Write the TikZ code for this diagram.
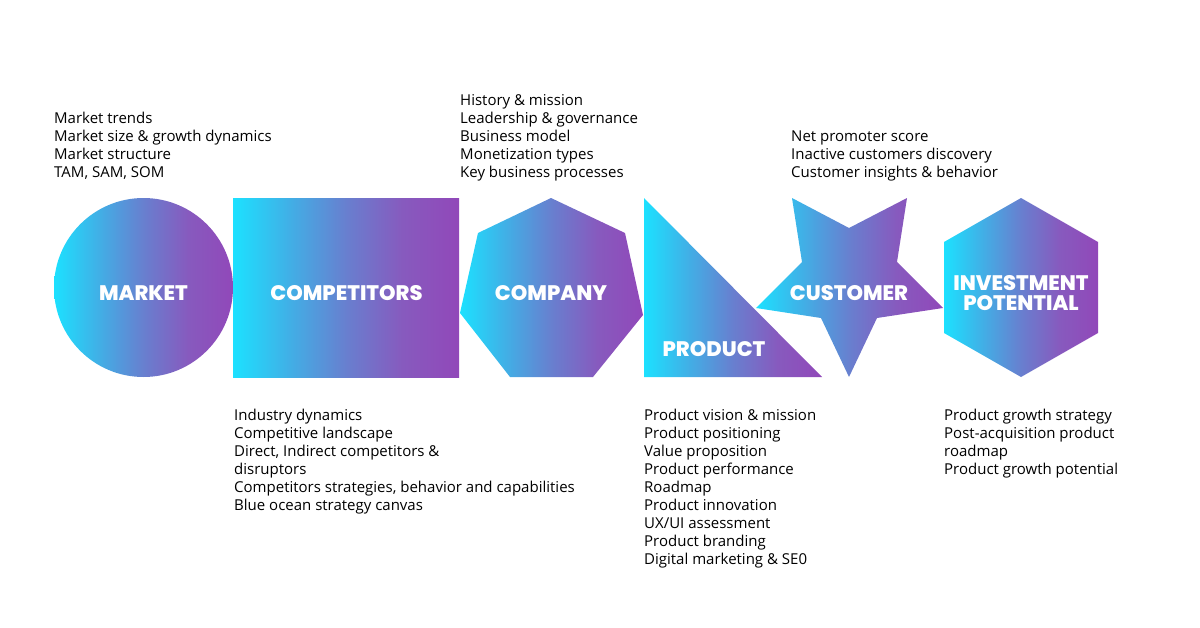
\documentclass[tikz,border=0pt]{standalone}
\usepackage{fontspec}
\setmainfont{Open Sans}
\newfontfamily\titlefont{Poppins ExtraBold}
\definecolor{gradleft}{RGB}{28,225,255}
\definecolor{gradq1}{RGB}{65,175,230}
\definecolor{gradmid}{RGB}{104,127,207}
\definecolor{gradq3}{RGB}{135,90,190}
\definecolor{gradright}{RGB}{145,72,185}
\pgfdeclarehorizontalshading{blobshade}{100bp}{
    color(0bp)=(gradleft); color(25bp)=(gradleft);
    color(37.5bp)=(gradq1); color(50bp)=(gradmid);
    color(62.5bp)=(gradq3); color(75bp)=(gradright);
    color(100bp)=(gradright)}

\begin{document}
\begin{tikzpicture}[x=1pt, y=-1pt,
    blob/.style={shading=blobshade, shading angle=0},
    title/.style={text=white, align=center, inner sep=0pt,
        font=\titlefont\fontsize{21}{19.5}\selectfont},
    item/.style={anchor=base west, inner sep=0pt,
        font=\fontsize{15}{18}\selectfont}]
    \useasboundingbox (0, 0) rectangle (1200, 627);
    % shapes
    \shade[blob] (143.5, 287.5) circle[radius=89.5pt];
    \shade[blob] (233, 198) rectangle (459, 377);
    \shade[blob]
        (551, 198) -- (625, 233) -- (643, 315) -- (593, 377)
        -- (510, 377) -- (460, 313) -- (478, 233) -- cycle;
    \shade[blob] (644, 198) -- (644, 377) -- (822, 377) -- cycle;
    \shade[blob]
        (792, 198) -- (849, 228) -- (907, 198) -- (897, 262)
        -- (943, 308) -- (877, 318) -- (849, 377) -- (821, 318)
        -- (756, 308) -- (802, 262) -- cycle;
    \shade[blob]
        (1021, 198) -- (1098, 242) -- (1098, 333) -- (1021, 377)
        -- (944, 333) -- (944, 242) -- cycle;
    % titles
    \node[title] (market) at (143.5, 293) {MARKET};
    \node[title] (competitors) at (346.5, 293) {COMPETITORS};
    \node[title] (company) at (551, 293) {COMPANY};
    \node[title] (product) at (714, 349) {PRODUCT};
    \node[title] (customer) at (849, 293) {CUSTOMER};
    \node[title] (investment) at (1021, 293) {INVESTMENT\\POTENTIAL};
    % lists
    \path[item]
        \foreach \t [count=\i from 0] in {
            Market trends,
            Market size \& growth dynamics,
            Market structure,
            {TAM, SAM, SOM}
        } {
            (54, 123 + 18*\i) node (market-\i) {\t}
        };
    \path[item]
        \foreach \t [count=\i from 0] in {
            History \& mission,
            Leadership \& governance,
            Business model,
            Monetization types,
            Key business processes
        } {
            (460, 105 + 18*\i) node (company-\i) {\t}
        };
    \path[item]
        \foreach \t [count=\i from 0] in {
            Net promoter score,
            Inactive customers discovery,
            Customer insights \& behavior
        } {
            (791, 141 + 18*\i) node (customer-\i) {\t}
        };
    \path[item]
        \foreach \t [count=\i from 0] in {
            Industry dynamics,
            Competitive landscape,
            Direct{,} Indirect competitors \&,
            disruptors,
            Competitors strategies{,} behavior and capabilities,
            Blue ocean strategy canvas
        } {
            (234, 420 + 18*\i) node (competitors-\i) {\t}
        };
    \path[item]
        \foreach \t [count=\i from 0] in {
            Product vision \& mission,
            Product positioning,
            Value proposition,
            Product performance,
            Roadmap,
            Product innovation,
            UX/UI assessment,
            Product branding,
            Digital marketing \& SE0
        } {
            (644, 420 + 18*\i) node (product-\i) {\t}
        };
    \path[item]
        \foreach \t [count=\i from 0] in {
            Product growth strategy,
            Post-acquisition product,
            roadmap,
            Product growth potential
        } {
            (944, 420 + 18*\i) node (investment-\i) {\t}
        };
\end{tikzpicture}
\end{document}
